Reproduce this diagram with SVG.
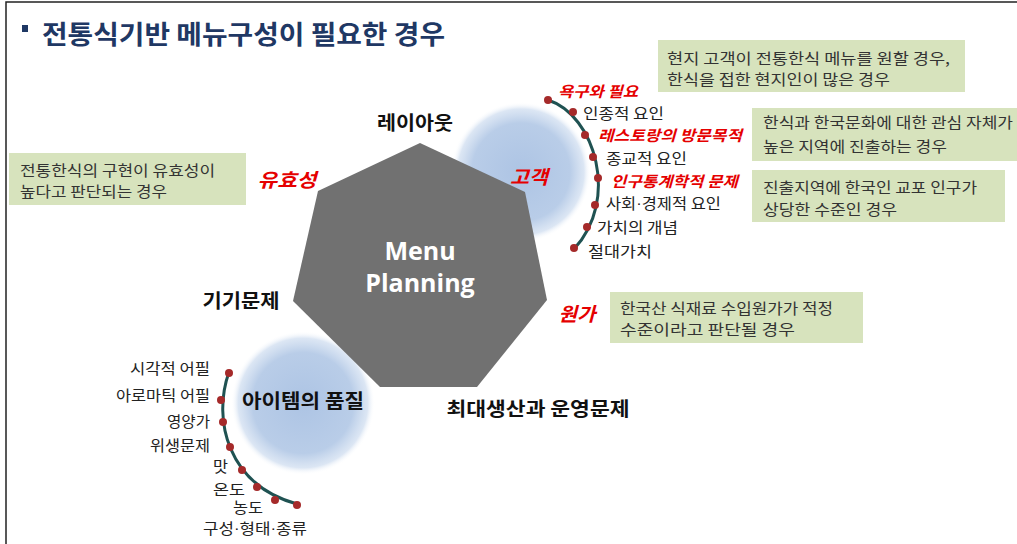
<svg xmlns="http://www.w3.org/2000/svg" width="1017" height="544" viewBox="0 0 1017 544">
<style>
.kr{font-family:"Noto Sans CJK KR","Noto Sans",sans-serif}
.lat{font-family:"Liberation Sans",sans-serif}
.title{font-size:26px;font-weight:bold;fill:#1f3864}
.node{font-size:19px;font-weight:bold;fill:#111}
.red{font-size:19px;font-weight:bold;font-style:italic;fill:#e50000}
.redsm{font-size:15px;font-weight:bold;font-style:italic;fill:#e50000}
.item{font-size:15px;fill:#222}
.box{fill:#d7e3bd}
.boxt{font-size:15px;fill:#333}
.dot{fill:#a52a2a}
.arc{fill:none;stroke:#1f5252;stroke-width:3}
.mp{font-family:"Open Sans","Liberation Sans",sans-serif;font-size:25px;font-weight:bold;fill:#fff}
</style>
<defs>
<radialGradient id="blue" cx="0.5" cy="0.5" r="0.5">
<stop offset="0" stop-color="#adc4e4"/>
<stop offset="0.7" stop-color="#b9cde8"/>
<stop offset="0.9" stop-color="#d3e0f1" stop-opacity="0.8"/>
<stop offset="1" stop-color="#ffffff" stop-opacity="0"/>
</radialGradient>
</defs>
<rect width="1017" height="544" fill="#fff"/>
<path d="M6,544 V2 H1017" fill="none" stroke="#222" stroke-width="1.5"/>
<g id="title">
<rect x="22" y="25" width="6" height="7" fill="#1f3864"/>
<text class="kr title" x="42" y="32" dominant-baseline="central" textLength="403" lengthAdjust="spacingAndGlyphs">전통식기반 메뉴구성이 필요한 경우</text>
</g>
<g id="circles">
<circle cx="521" cy="172" r="70" fill="url(#blue)"/>
<circle cx="303" cy="403" r="72" fill="url(#blue)"/>
</g>
<g id="menu-planning">
<polygon points="420,143 525,192 547,300 477,387 380,387 293,301 318,191" fill="#717171"/>
<text class="mp" x="420" y="260" text-anchor="middle">Menu</text>
<text class="mp" x="420" y="292" text-anchor="middle">Planning</text>
</g>
<g id="connectors">
<path class="arc" d="M548,100 C595,115 620,200 574,249"/>
<path class="arc" d="M229,372 C212,420 228,485 297,504"/>
</g>
<g id="layout"><text class="kr node" x="415" y="121" text-anchor="middle" dominant-baseline="central" textLength="76" lengthAdjust="spacingAndGlyphs">레이아웃</text></g>
<g id="validity"><text class="kr red" x="287" y="178" text-anchor="middle" dominant-baseline="central" textLength="59" lengthAdjust="spacingAndGlyphs">유효성</text></g>
<g id="customer"><text class="kr red" x="529" y="175" text-anchor="middle" dominant-baseline="central" textLength="38" lengthAdjust="spacingAndGlyphs">고객</text></g>
<g id="equipment"><text class="kr node" x="241" y="299" text-anchor="middle" dominant-baseline="central" textLength="77" lengthAdjust="spacingAndGlyphs">기기문제</text></g>
<g id="cost"><text class="kr red" x="577" y="312" text-anchor="middle" dominant-baseline="central" textLength="37" lengthAdjust="spacingAndGlyphs">원가</text></g>
<g id="item-quality"><text class="kr node" x="303" y="399" text-anchor="middle" dominant-baseline="central" textLength="122" lengthAdjust="spacingAndGlyphs">아이템의 품질</text></g>
<g id="production"><text class="kr node" x="538" y="407" text-anchor="middle" dominant-baseline="central" textLength="183" lengthAdjust="spacingAndGlyphs">최대생산과 운영문제</text></g>
<g id="customer-factors">
<circle class="dot" cx="548" cy="100" r="4"/>
<circle class="dot" cx="573" cy="112" r="4"/>
<circle class="dot" cx="585" cy="135" r="4"/>
<circle class="dot" cx="593" cy="157" r="4"/>
<circle class="dot" cx="598" cy="178" r="4"/>
<circle class="dot" cx="595" cy="205" r="4"/>
<circle class="dot" cx="587" cy="227" r="4"/>
<circle class="dot" cx="574" cy="248" r="4"/>
<text class="kr redsm" x="558" y="90" dominant-baseline="central" textLength="80" lengthAdjust="spacingAndGlyphs">욕구와 필요</text>
<text class="kr item" x="583" y="112" dominant-baseline="central" textLength="81" lengthAdjust="spacingAndGlyphs">인종적 요인</text>
<text class="kr redsm" x="598" y="134" dominant-baseline="central" textLength="144" lengthAdjust="spacingAndGlyphs">레스토랑의 방문목적</text>
<text class="kr item" x="606" y="157" dominant-baseline="central" textLength="81" lengthAdjust="spacingAndGlyphs">종교적 요인</text>
<text class="kr redsm" x="611" y="180" dominant-baseline="central" textLength="127" lengthAdjust="spacingAndGlyphs">인구통계학적 문제</text>
<text class="kr item" x="606" y="202" dominant-baseline="central" textLength="115" lengthAdjust="spacingAndGlyphs">사회<tspan class="lat">·</tspan>경제적 요인</text>
<text class="kr item" x="597" y="226" dominant-baseline="central" textLength="81" lengthAdjust="spacingAndGlyphs">가치의 개념</text>
<text class="kr item" x="588" y="250" dominant-baseline="central" textLength="64" lengthAdjust="spacingAndGlyphs">절대가치</text>
</g>
<g id="quality-factors">
<circle class="dot" cx="229" cy="373" r="4"/>
<circle class="dot" cx="221" cy="400" r="4"/>
<circle class="dot" cx="223" cy="422" r="4"/>
<circle class="dot" cx="230" cy="447" r="4"/>
<circle class="dot" cx="242" cy="470" r="4"/>
<circle class="dot" cx="257" cy="487" r="4"/>
<circle class="dot" cx="275" cy="500" r="4"/>
<circle class="dot" cx="297" cy="505" r="4"/>
<text class="kr item" x="210" y="367" text-anchor="end" dominant-baseline="central" textLength="80" lengthAdjust="spacingAndGlyphs">시각적 어필</text>
<text class="kr item" x="210" y="394" text-anchor="end" dominant-baseline="central" textLength="94" lengthAdjust="spacingAndGlyphs">아로마틱 어필</text>
<text class="kr item" x="210" y="420" text-anchor="end" dominant-baseline="central" textLength="43" lengthAdjust="spacingAndGlyphs">영양가</text>
<text class="kr item" x="210" y="444" text-anchor="end" dominant-baseline="central" textLength="60" lengthAdjust="spacingAndGlyphs">위생문제</text>
<text class="kr item" x="213" y="465" dominant-baseline="central" textLength="15" lengthAdjust="spacingAndGlyphs">맛</text>
<text class="kr item" x="213" y="488" dominant-baseline="central" textLength="32" lengthAdjust="spacingAndGlyphs">온도</text>
<text class="kr item" x="233" y="506" dominant-baseline="central" textLength="30" lengthAdjust="spacingAndGlyphs" font-size="14">농도</text>
<text class="kr item" x="203" y="527" dominant-baseline="central" textLength="104" lengthAdjust="spacingAndGlyphs" font-size="14">구성<tspan class="lat">·</tspan>형태<tspan class="lat">·</tspan>종류</text>
</g>
<g id="note-customer-1">
<rect class="box" x="658" y="40" width="307" height="52"/>
<text class="kr boxt" x="667" y="57" dominant-baseline="central" textLength="283" lengthAdjust="spacingAndGlyphs">현지 고객이 전통한식 메뉴를 원할 경우,</text>
<text class="kr boxt" x="667" y="78" dominant-baseline="central" textLength="223" lengthAdjust="spacingAndGlyphs">한식을 접한 현지인이 많은 경우</text>
</g>
<g id="note-customer-2">
<rect class="box" x="752" y="108" width="265" height="53"/>
<text class="kr boxt" x="763" y="121" dominant-baseline="central" textLength="250" lengthAdjust="spacingAndGlyphs">한식과 한국문화에 대한 관심 자체가</text>
<text class="kr boxt" x="763" y="145" dominant-baseline="central" textLength="184" lengthAdjust="spacingAndGlyphs">높은 지역에 진출하는 경우</text>
</g>
<g id="note-customer-3">
<rect class="box" x="752" y="170" width="253" height="52"/>
<text class="kr boxt" x="763" y="186" dominant-baseline="central" textLength="214" lengthAdjust="spacingAndGlyphs">진출지역에 한국인 교포 인구가</text>
<text class="kr boxt" x="763" y="208" dominant-baseline="central" textLength="134" lengthAdjust="spacingAndGlyphs">상당한 수준인 경우</text>
</g>
<g id="note-validity">
<rect class="box" x="9" y="153" width="237" height="52"/>
<text class="kr boxt" x="20" y="169" dominant-baseline="central" textLength="195" lengthAdjust="spacingAndGlyphs">전통한식의 구현이 유효성이</text>
<text class="kr boxt" x="20" y="190" dominant-baseline="central" textLength="147" lengthAdjust="spacingAndGlyphs">높다고 판단되는 경우</text>
</g>
<g id="note-cost">
<rect class="box" x="610" y="292" width="253" height="51"/>
<text class="kr boxt" x="620" y="307" dominant-baseline="central" textLength="213" lengthAdjust="spacingAndGlyphs">한국산 식재료 수입원가가 적정</text>
<text class="kr boxt" x="620" y="328" dominant-baseline="central" textLength="175" lengthAdjust="spacingAndGlyphs">수준이라고 판단될 경우</text>
</g>
</svg>
